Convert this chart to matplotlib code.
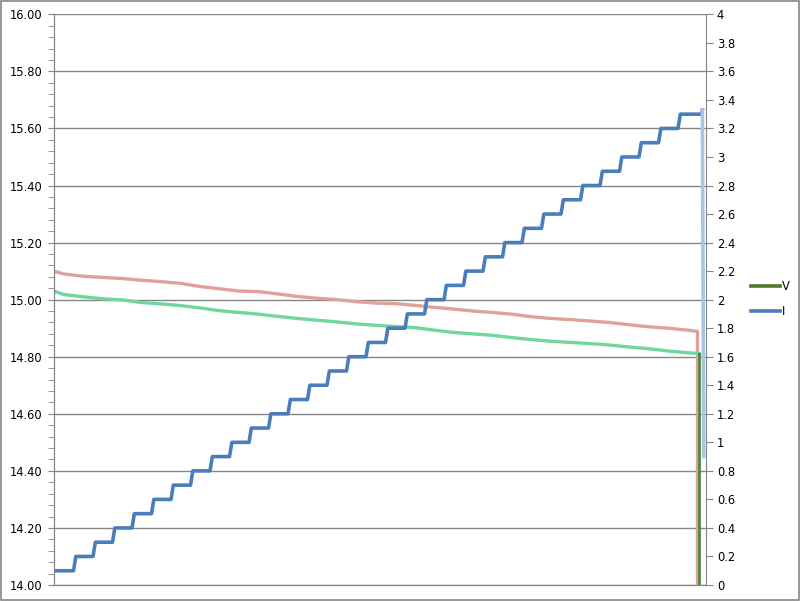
import matplotlib
matplotlib.use("Agg")
import matplotlib.pyplot as plt
from matplotlib.lines import Line2D
from matplotlib.patches import Rectangle
from matplotlib.ticker import MultipleLocator, FormatStrFormatter, FuncFormatter

# current steps (A), one level per step
current_levels = [0.1, 0.2, 0.3, 0.4, 0.5, 0.6, 0.7, 0.8, 0.9, 1.0, 1.1,
                  1.2, 1.3, 1.4, 1.5, 1.6, 1.7, 1.8, 1.9, 2.0, 2.1, 2.2,
                  2.3, 2.4, 2.5, 2.6, 2.7, 2.8, 2.9, 3.0, 3.1, 3.2, 3.3]
current_end = [3.3, 3.33, 0.9]
current_end_x = [33.2, 33.25, 33.32]

# voltage read at the middle of each step (V)
v_red = [15.090, 15.082, 15.078, 15.074, 15.068, 15.063, 15.057, 15.046,
         15.038, 15.030, 15.028, 15.020, 15.011, 15.005, 15.000, 14.993,
         14.988, 14.986, 14.980, 14.973, 14.967, 14.960, 14.955, 14.949,
         14.940, 14.934, 14.930, 14.925, 14.920, 14.912, 14.905, 14.900,
         14.893]
v_green = [15.018, 15.010, 15.003, 14.999, 14.990, 14.985, 14.979, 14.971,
           14.961, 14.955, 14.949, 14.941, 14.934, 14.928, 14.922, 14.915,
           14.910, 14.906, 14.902, 14.893, 14.885, 14.880, 14.875, 14.867,
           14.860, 14.854, 14.850, 14.846, 14.841, 14.834, 14.828, 14.820,
           14.814]
red_start, red_end = 15.100, 14.889
green_start, green_end = 15.030, 14.811
red_drop_x, green_drop_x = 33.0, 33.1
v_floor = 13.9

fig = plt.figure(figsize=(8, 6.01), dpi=100)
ax = fig.add_axes([54 / 800, 16 / 601, (705.7 - 54) / 800, (585 - 14.3) / 601])
ax2 = ax.twinx()

grid_c = "#868686"

# voltage lines
mids = [i + 0.5 for i in range(len(v_red))]
ax.plot([0] + mids + [red_drop_x, red_drop_x],
        [red_start] + v_red + [red_end, v_floor],
        color="#e0a19d", lw=2.4, solid_joinstyle="round")
ax.plot([0] + mids + [green_drop_x],
        [green_start] + v_green + [green_end],
        color="#72d49e", lw=2.4, solid_joinstyle="round")
ax.plot([green_drop_x, green_drop_x], [green_end, v_floor],
        color="#4f8a3c", lw=2.0)

# current steps
xs, ys = [], []
for i, lvl in enumerate(current_levels):
    xs += [i + 0.12 if i > 0 else 0, i + 1]
    ys += [lvl, lvl]
xs += current_end_x[:2]
ys += current_end[:2]
ax2.plot(xs, ys, color="#4a7ebb", lw=2.6, solid_joinstyle="round")
ax2.plot(current_end_x[1:], current_end[1:], color="#a9c4e5", lw=2.6)

ax.set_xlim(0, 33.42)
ax.set_ylim(14, 16)
ax2.set_ylim(0, 4)
ax.set_xticks([])

ax.yaxis.set_major_locator(MultipleLocator(0.2))
ax.yaxis.set_minor_locator(MultipleLocator(0.04))
ax.yaxis.set_major_formatter(FormatStrFormatter("%.2f"))
ax2.yaxis.set_major_locator(MultipleLocator(0.2))
ax2.yaxis.set_major_formatter(FuncFormatter(lambda v, p: f"{round(v, 1):g}"))

ax.grid(True, axis="y", which="major", color=grid_c, lw=1)
ax.set_axisbelow(True)
ax.tick_params(axis="y", which="both", direction="out", length=4,
               color=grid_c, labelsize=8.3, pad=4, labelcolor="black")
ax2.tick_params(axis="y", direction="out", length=5, color=grid_c,
                labelsize=8.3, pad=3, labelcolor="black")

for a in (ax, ax2):
    a.spines["top"].set_visible(False)
    for s in ("left", "right", "bottom"):
        a.spines[s].set_color(grid_c)
ax.spines["right"].set_visible(False)

handles = [Line2D([], [], color="#4f7a28", lw=2.6),
           Line2D([], [], color="#4a7ebb", lw=2.6)]
fig.legend(handles, ["V", "I"], loc="center left",
           bbox_to_anchor=(741 / 800, 1 - 299 / 601), frameon=False,
           fontsize=8.3, handlelength=2.5, handletextpad=0.15, labelspacing=1.0)

fig.patches.append(Rectangle((0.0015, 0.002), 0.997, 0.996,
                             transform=fig.transFigure, fill=False,
                             edgecolor=grid_c, lw=1.2))

fig.savefig("out.png", dpi=100)
